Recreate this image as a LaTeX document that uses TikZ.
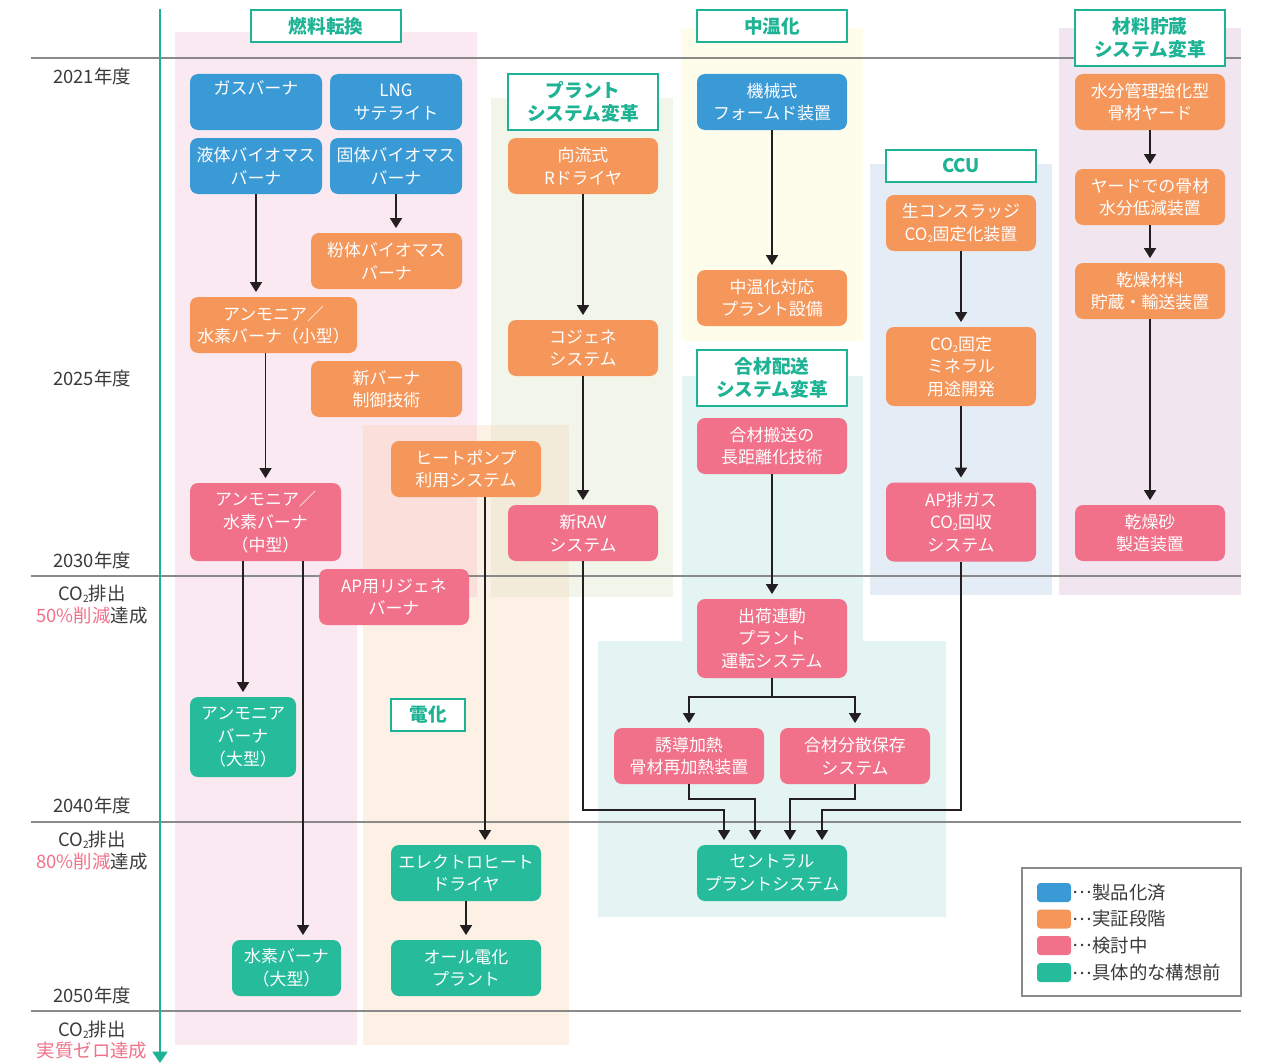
\documentclass[tikz,border=0pt]{standalone}
\usepackage{fontspec}
\setmainfont{Noto Sans CJK JP}
\usetikzlibrary{arrows.meta,calc}

% box fills
\definecolor{cblue}{HTML}{3A9AD6}
\definecolor{corange}{HTML}{F5965A}
\definecolor{cpink}{HTML}{F07189}
\definecolor{cgreen}{HTML}{25BB9B}
\definecolor{cteal}{HTML}{1DB394}
% lines and text
\definecolor{cline}{HTML}{231F20}
\definecolor{cgrid}{HTML}{8A8A8A}
\definecolor{ctext}{HTML}{3A3A3A}
% column backgrounds
\definecolor{bgpink}{HTML}{FBE9F1}
\definecolor{bgpeach}{HTML}{FDF1E5}
\definecolor{bgmix}{HTML}{FADFDA}
\definecolor{bggreen}{HTML}{F2F6EA}
\definecolor{bgmixb}{HTML}{F2EBDA}
\definecolor{bgyellow}{HTML}{FEFDEC}
\definecolor{bgteal}{HTML}{E3F4F2}
\definecolor{bgblue}{HTML}{E4ECF6}
\definecolor{bglav}{HTML}{F1E6F0}

% CO2 with a small lowered 2
\newcommand\cotwo{CO\raisebox{-0.12em}{\fontsize{0.55em}{0.6em}\selectfont 2}}
% centred ellipsis for the legend
\newcommand\mdots{\raisebox{0.3em}{…}}

\tikzset{
  sz/.style 2 args={minimum width=#1*0.75pt, minimum height=#2*0.75pt},
  card/.style={rectangle, rounded corners=6pt, inner sep=0pt, text=white, align=center,
    font=\fontsize{12.7pt}{17pt}\selectfont},
  cb/.style={card, fill=cblue},
  co/.style={card, fill=corange},
  cp/.style={card, fill=cpink},
  cg/.style={card, fill=cgreen},
  ttl/.style={rectangle, draw=cteal, line width=1.5pt, fill=white, inner sep=0pt,
    text=cteal, align=center, font=\fontsize{14pt}{17pt}\selectfont\bfseries},
  arr/.style={draw=cline, line width=1.3pt, -{Triangle[width=9pt,length=7.5pt]}, shorten >=3.5pt},
  link/.style={draw=cline, line width=1.3pt},
  yr/.style={text=ctext, font=\fontsize{13.8pt}{16pt}\selectfont, inner sep=0pt},
  hline/.style={draw=cgrid, line width=0.9pt},
}

\begin{document}
\begin{tikzpicture}[x=0.75pt, y=-0.75pt]
\useasboundingbox (0,0) rectangle (1262,1063);

% ---- column backgrounds ----
\fill[bgpink] (175,32) -- (477,32) -- (477,597) -- (357,597) -- (357,1045) -- (175,1045) -- cycle;
\fill[bgpeach] (363,425) rectangle (569,1045);
\fill[bgmix] (363,425) rectangle (477,597);
\fill[bggreen] (491,98) rectangle (673,597);
\fill[bgmixb] (491,425) rectangle (569,597);
\fill[bgyellow] (681,28) rectangle (863,341);
\fill[bgteal] (682,376) -- (863,376) -- (863,641) -- (946,641) -- (946,917)
   -- (598,917) -- (598,641) -- (682,641) -- cycle;
\fill[bgblue] (870,164) rectangle (1052,595);
\fill[bglav] (1059,28) rectangle (1241,595);

% ---- year rules ----
\foreach \yy in {58,576,822,1011} \draw[hline] (31,\yy) -- (1241,\yy);

% ---- time axis ----
\coordinate (axtop) at (160,9);
\coordinate (axend) at (160,1063);
\draw[cteal, line width=2pt, -{Triangle[width=11pt,length=8.5pt]}] (axtop) -- (axend);

% ---- year labels ----
\node[yr] (y21) at (92,76) {2021年度};
\node[yr] (y25) at (92,378) {2025年度};
\node[yr] (y30) at (92,560) {2030年度};
\node[yr] (c50a) at (92,594) {\cotwo 排出};
\node[yr] (c50b) at (92,616) {\textcolor{cpink}{50\%削減}達成};
\node[yr] (y40) at (92,805) {2040年度};
\node[yr] (c80a) at (92,840) {\cotwo 排出};
\node[yr] (c80b) at (92,862) {\textcolor{cpink}{80\%削減}達成};
\node[yr] (y50) at (92,995) {2050年度};
\node[yr] (c00a) at (92,1030) {\cotwo 排出};
\node[yr, text=cpink] (c00b) at (92,1051) {実質ゼロ達成};

% ---- group titles ----
\node[ttl, sz={150}{32}] (tfuel) at (326,26) {燃料転換};
\node[ttl, sz={150}{56}] (tplant) at (583,102) {プラント\\システム変革};
\node[ttl, sz={150}{32}] (tmid) at (772,26) {中温化};
\node[ttl, sz={150}{56}] (tmix) at (772,378) {合材配送\\システム変革};
\node[ttl, sz={150}{32}] (tccu) at (961,166) {CCU};
\node[ttl, sz={150}{56}] (tmat) at (1150,38) {材料貯蔵\\システム変革};
\node[ttl, sz={74}{32}] (telec) at (428,715) {電化};

% ---- fuel switching ----
\node[cb, sz={132}{56}] (gas) at (256,102) {ガスバーナ\\\strut};
\node[cb, sz={132}{56}] (lng) at (396,102) {LNG\\サテライト};
\node[cb, sz={132}{56}] (eki) at (256,166) {液体バイオマス\\バーナ};
\node[cb, sz={132}{56}] (kotai) at (396,166) {固体バイオマス\\バーナ};
\node[co, sz={151}{56}] (funtai) at (386.5,261) {粉体バイオマス\\バーナ};
\node[co, sz={167}{56}] (ammS) at (273.5,325) {アンモニア／\\水素バーナ（小型）};
\node[co, sz={151}{56}] (shinb) at (386.5,389) {新バーナ\\制御技術};
\node[cp, sz={151}{78}] (chu) at (265.5,522) {アンモニア／\\水素バーナ\\（中型）};
\node[cp, sz={150}{56}] (apregen) at (394,597) {AP用リジェネ\\バーナ};
\node[cg, sz={106}{80}] (amL) at (243,737) {アンモニア\\バーナ\\（大型）};
\node[cg, sz={109}{56}] (h2L) at (286.5,968) {水素バーナ\\（大型）};

% ---- electrification ----
\node[co, sz={150}{56}] (hp) at (466,469) {ヒートポンプ\\利用システム};
\node[cg, sz={150}{56}] (ed) at (466,873) {エレクトロヒート\\ドライヤ};
\node[cg, sz={150}{56}] (allel) at (466,968) {オール電化\\プラント};

% ---- plant system ----
\node[co, sz={150}{56}] (kory) at (583,166) {向流式\\Rドライヤ};
\node[co, sz={150}{56}] (coge) at (583,348) {コジェネ\\システム};
\node[cp, sz={150}{56}] (rav) at (583,533) {新RAV\\システム};

% ---- mid temperature ----
\node[cb, sz={150}{56}] (kikai) at (772,102) {機械式\\フォームド装置};
\node[co, sz={150}{56}] (chuon) at (772,298) {中温化対応\\プラント設備};

% ---- mix delivery ----
\node[cp, sz={150}{56}] (hanso) at (772,446) {合材搬送の\\長距離化技術};
\node[cp, sz={150}{79}] (ship) at (772,638.5) {出荷連動\\プラント\\運転システム};
\node[cp, sz={150}{56}] (ind) at (689,756) {誘導加熱\\骨材再加熱装置};
\node[cp, sz={150}{56}] (disp) at (855,756) {合材分散保存\\システム};
\node[cg, sz={150}{56}] (cen) at (772,873) {セントラル\\プラントシステム};

% ---- CCU ----
\node[co, sz={150}{56}] (nama) at (961,223) {生コンスラッジ\\\cotwo 固定化装置};
\node[co, sz={150}{79}] (mineral) at (961,366.5) {\cotwo 固定\\ミネラル\\用途開発};
\node[cp, sz={150}{79}] (apco) at (961,522) {AP排ガス\\\cotwo 回収\\システム};

% ---- material storage ----
\node[co, sz={150}{56}] (yard) at (1150,102) {水分管理強化型\\骨材ヤード};
\node[co, sz={150}{56}] (yardw) at (1150,197) {ヤードでの骨材\\水分低減装置};
\node[co, sz={150}{56}] (kanzai) at (1150,291) {乾燥材料\\貯蔵・輸送装置};
\node[cp, sz={150}{56}] (suna) at (1150,533) {乾燥砂\\製造装置};

% ---- connectors ----
\draw[arr] (eki.south) -- (eki.south |- ammS.north);
\draw[arr] (kotai.south) -- (kotai.south |- funtai.north);
\draw[arr] (ammS.south -| chu.north) -- (chu.north);
\draw[arr] (amL.north |- chu.south) -- (amL.north);
\coordinate (chuR) at ($(chu.south)+(37.5,0)$);
\draw[arr] (chuR) -- (chuR |- h2L.north);

\coordinate (hpR) at ($(hp.south)+(19,0)$);
\draw[arr] (hpR) -- (hpR |- ed.north);
\draw[arr] (ed.south) -- (allel.north);

\draw[arr] (kory.south) -- (coge.north);
\draw[arr] (coge.south) -- (rav.north);

\draw[arr] (kikai.south) -- (chuon.north);

\draw[arr] (hanso.south) -- (ship.north);
\draw[link] (ship.south) -- ++(0,19) coordinate (split);
\draw[arr] (split) -| (ind.north);
\draw[arr] (split) -| (disp.north);
\draw[arr] (rav.south) |- ($(cen.north)+(-48,-35)$) -- ($(cen.north)+(-48,0)$);
\draw[arr] (ind.south) -- ++(0,15) -| ($(cen.north)+(-17,0)$);
\draw[arr] (disp.south) -- ++(0,15) -| ($(cen.north)+(18,0)$);
\draw[arr] (apco.south) |- ($(cen.north)+(50,-35)$) -- ($(cen.north)+(50,0)$);

\draw[arr] (nama.south) -- (mineral.north);
\draw[arr] (mineral.south) -- (apco.north);

\draw[arr] (yard.south) -- (yardw.north);
\draw[arr] (yardw.south) -- (kanzai.north);
\draw[arr] (kanzai.south) -- (suna.north);

% ---- legend ----
\node[draw=cgrid, line width=0.9pt, sz={219}{128}, inner sep=0pt] (legend) at (1131.5,932) {};
\node[fill=cblue, rounded corners=2.5pt, sz={34}{19}, inner sep=0pt] (lg1) at (1054,892.5) {};
\node[fill=corange, rounded corners=2.5pt, sz={34}{19}, inner sep=0pt] (lg2) at (1054,919) {};
\node[fill=cpink, rounded corners=2.5pt, sz={34}{19}, inner sep=0pt] (lg3) at (1054,945.5) {};
\node[fill=cgreen, rounded corners=2.5pt, sz={34}{19}, inner sep=0pt] (lg4) at (1054,972.5) {};
\node[yr, anchor=west] (lt1) at ([xshift=1pt]lg1.east) {\mdots 製品化済};
\node[yr, anchor=west] (lt2) at ([xshift=1pt]lg2.east) {\mdots 実証段階};
\node[yr, anchor=west] (lt3) at ([xshift=1pt]lg3.east) {\mdots 検討中};
\node[yr, anchor=west] (lt4) at ([xshift=1pt]lg4.east) {\mdots 具体的な構想前};
\end{tikzpicture}
\end{document}
